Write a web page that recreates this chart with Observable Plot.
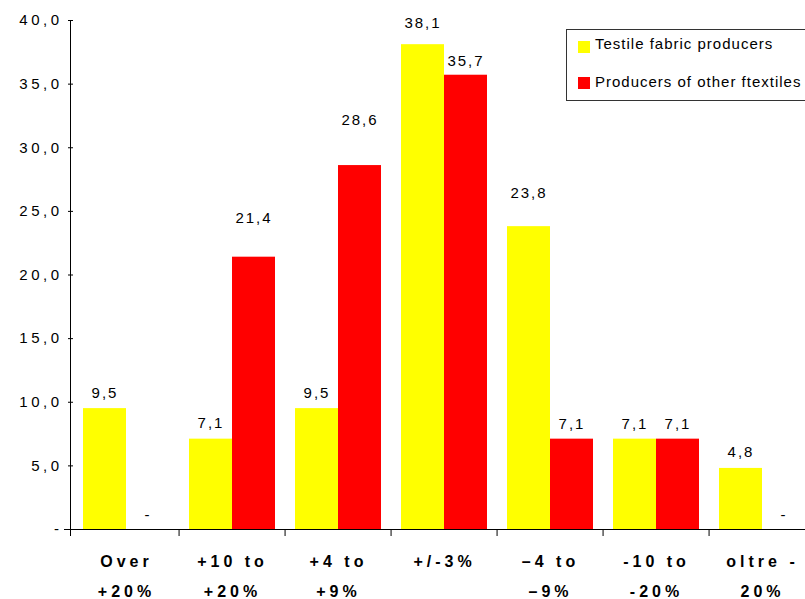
<!DOCTYPE html>
<html><head><meta charset="utf-8">
<script src="https://cdn.jsdelivr.net/npm/d3@7"></script>
<script src="https://cdn.jsdelivr.net/npm/@observablehq/plot@0.6"></script>
<style>
body{margin:0;background:#fff;font-family:"Liberation Sans",Arial,sans-serif}
#wrap{position:relative;width:805px;height:599px;overflow:hidden;background:#fff}
#wrap svg{max-width:none !important}
#legend{position:absolute;left:566px;top:29px;width:260px;height:72px;border:1px solid #333;background:#fff;box-sizing:border-box}
.sw{position:absolute;width:12px;height:12px}
.lt{position:absolute;font-size:15px;line-height:15px;letter-spacing:1px;color:#000;white-space:nowrap}
</style></head><body>
<div id="wrap"></div>
<script>
const categories = ["Over\n+20%", "+10 to\n+20%", "+4 to\n+9%", "+/-3%", "\u20134 to\n\u20139%", "-10 to\n-20%", "oltre -\n20%"];
const seriesNames = ["Testile fabric producers", "Producers of other ftextiles"];
const seriesColors = ["#ffff00", "#ff0000"];
const testileValues = [9.5, 7.1, 9.5, 38.1, 23.8, 7.1, 4.8];
const otherValues = [0, 21.4, 28.6, 35.7, 7.1, 7.1, 0];
const yTicks = [0, 5, 10, 15, 20, 25, 30, 35, 40];
// gap between bar top and its value label, in value units, as placed in the original
const testileLabelGap = [1.2, 1.25, 1.25, 1.65, 2.6, 1.2, 1.25];
const otherLabelGap = [1.1, 3.05, 3.6, 1.1, 1.2, 1.2, 1.1];

const rows = [];
categories.forEach((c, i) => {
  rows.push({cat: c, series: seriesNames[0], value: testileValues[i], gap: testileLabelGap[i]});
  rows.push({cat: c, series: seriesNames[1], value: otherValues[i], gap: otherLabelGap[i]});
});

const W = 820, ML = 70, MR = 2;
const step = (W - ML - MR) / categories.length;
const fmt = v => v === 0 ? "-" : v.toFixed(1).replace(".", ",");

const chart = Plot.plot({
  width: W, height: 599,
  marginLeft: ML, marginRight: MR, marginTop: 20, marginBottom: 70,
  style: {fontFamily: '"Liberation Sans", Arial, sans-serif', background: "white", color: "#000", maxWidth: "none"},
  fx: {domain: categories, padding: 0, label: null},
  x: {domain: seriesNames, paddingInner: 0, paddingOuter: 0.214, axis: null},
  y: {domain: [0, 40], label: null},
  color: {domain: seriesNames, range: seriesColors},
  marks: [
    Plot.barY(rows, {fx: "cat", x: "series", y: "value", fill: "series"}),
    Plot.text(rows, {fx: "cat", x: "series", y: d => d.value + d.gap, text: d => fmt(d.value), fontSize: 15, fill: "#000"}),
    Plot.axisY({ticks: yTicks, tickSize: 5, tickPadding: 6, tickFormat: fmt, fontSize: 15, label: null}),
    Plot.axisFx({anchor: "bottom", tickSize: 0, tickPadding: 16, fontSize: 16, fontWeight: "bold", lineHeight: 1.9, label: null}),
    Plot.axisFx({anchor: "bottom", ticks: categories.slice(1), tickSize: 7, tickFormat: () => "", dx: -step / 2, label: null})
  ]
});

const wrap = document.getElementById("wrap");
wrap.appendChild(chart);
const svg = d3.select(chart);
svg.style("position", "absolute").style("left", "0").style("top", "0")
  .style("max-width", "none").style("width", W + "px").style("height", "599px");
svg.selectAll('g[aria-label="y-axis tick label"] text').style("letter-spacing", "3.5px").style("font-size", "15px").style("fill", "#000");
svg.selectAll('g[aria-label="fx-axis tick label"] text').style("letter-spacing", "4px");
svg.selectAll('g[aria-label="text"] text').style("letter-spacing", "2px").style("font-size", "15px");

const yr = chart.scale("y").range;
svg.append("line").attr("x1", ML - 6).attr("x2", W).attr("y1", yr[0] + 0.5).attr("y2", yr[0] + 0.5)
  .attr("stroke", "#000").attr("stroke-width", 1);
svg.append("line").attr("x1", ML + 0.5).attr("x2", ML + 0.5).attr("y1", yr[1]).attr("y2", yr[0] + 7)
  .attr("stroke", "#000").attr("stroke-width", 1);

// legend
const legend = document.createElement("div");
legend.id = "legend";
wrap.appendChild(legend);
const swTops = [41, 77], txtTops = [36, 74];
seriesNames.forEach((name, i) => {
  const sw = document.createElement("div");
  sw.className = "sw";
  sw.style.left = "578px"; sw.style.top = swTops[i] + "px";
  sw.style.background = seriesColors[i];
  wrap.appendChild(sw);
  const t = document.createElement("div");
  t.className = "lt";
  t.style.left = "595px"; t.style.top = txtTops[i] + "px";
  t.textContent = name;
  wrap.appendChild(t);
});
</script>
</body></html>
